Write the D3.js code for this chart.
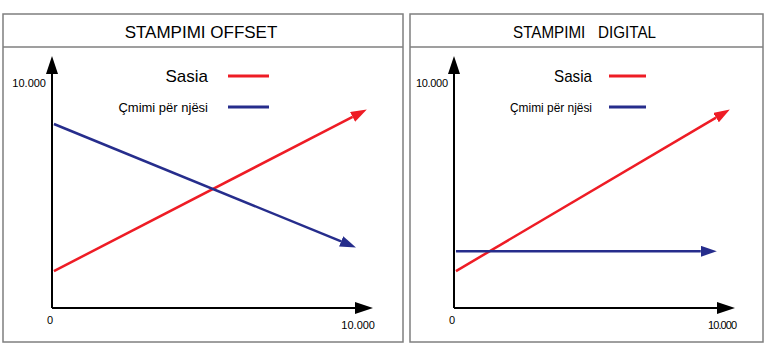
<!DOCTYPE html>
<html>
<head>
<meta charset="utf-8">
<script src="https://cdn.jsdelivr.net/npm/d3@7"></script>
<style>
  body { margin: 0; background: #fff; }
  text { font-family: "Liberation Sans", Arial, sans-serif; }
</style>
</head>
<body>
<div id="chart"></div>
<script>
// chart values
const titles = ["STAMPIMI OFFSET", "STAMPIMI   DIGITAL"];
const legendLabels = ["Sasia", "Çmimi për njësi"];
const tickLabels = ["0", "10.000"];
// [x, y] pairs, start and arrow tip
const offsetSasia = [[60, 1470], [9810, 7890]];
const offsetCmimi = [[60, 7330], [9470, 2430]];
const digitalSasia = [[70, 1470], [9820, 7890]];
const digitalCmimi = [[70, 2260], [9350, 2260]];

const seriesColors = ["#ee1c25", "#262d8c"];

const panels = [
    { title: titles[0], series: [offsetSasia, offsetCmimi], left: 3, right: 403, condensed: false },
    { title: titles[1], series: [digitalSasia, digitalCmimi], left: 410, right: 763, condensed: true }
];

const svg = d3.select("#chart").append("svg")
    .attr("width", 770)
    .attr("height", 354);

// arrowheads
let defs = svg.append("defs");
defs.append("marker")
    .attr("id", "axisArrow")
    .attr("markerUnits", "userSpaceOnUse")
    .attr("markerWidth", 18).attr("markerHeight", 12)
    .attr("refX", 0).attr("refY", 6)
    .attr("orient", "auto")
    .append("path")
    .attr("d", "M0,0 L18,6 L0,12 Z")
    .attr("fill", "#000");

seriesColors.forEach((c, i) => {
    defs.append("marker")
        .attr("id", "lineArrow" + i)
        .attr("markerUnits", "userSpaceOnUse")
        .attr("markerWidth", 16).attr("markerHeight", 11)
        .attr("refX", 0).attr("refY", 5.5)
        .attr("orient", "auto")
        .append("path")
        .attr("d", "M0,0 L16,5.5 L0,11 Z")
        .attr("fill", c);
});

// pull the end of a segment back so the arrowhead base sits there
function shorten(p0, p1, len) {
    let dx = p1[0] - p0[0], dy = p1[1] - p0[1];
    let d = Math.sqrt(dx * dx + dy * dy);
    return [p1[0] - dx / d * len, p1[1] - dy / d * len];
}

panels.forEach(p => {
    let g = svg.append("g");
    let top = 14, bottom = 342, header = 47;

    // frame
    g.append("rect")
        .attr("x", p.left).attr("y", top)
        .attr("width", p.right - p.left).attr("height", bottom - top)
        .attr("fill", "none").attr("stroke", "#7f7f7f").attr("stroke-width", 1.5);
    g.append("line")
        .attr("x1", p.left).attr("x2", p.right)
        .attr("y1", header).attr("y2", header)
        .attr("stroke", "#7f7f7f").attr("stroke-width", 1.5);

    let title = g.append("text")
        .attr("x", (p.left + p.right) / 2 - 2)
        .attr("y", 38)
        .attr("text-anchor", "middle")
        .attr("font-size", 17)
        .style("white-space", "pre")
        .text(p.title);
    if (p.condensed) {
        title.attr("textLength", 143).attr("lengthAdjust", "spacingAndGlyphs");
    }

    // scales
    let x0 = p.left + (p.condensed ? 44 : 49);
    let x1 = p.condensed ? 734 : 372;
    let x = d3.scaleLinear().domain([0, 10000]).range([x0, x1]);
    let y = d3.scaleLinear().domain([0, 10000]).range([308, 57]);

    // axes with arrows
    g.append("line")
        .attr("x1", x(0)).attr("y1", y(0))
        .attr("x2", x(10000) - 17).attr("y2", y(0))
        .attr("stroke", "#000").attr("stroke-width", 2)
        .attr("marker-end", "url(#axisArrow)");
    g.append("line")
        .attr("x1", x(0)).attr("y1", y(0))
        .attr("x2", x(0)).attr("y2", y(10000) + 17)
        .attr("stroke", "#000").attr("stroke-width", 2)
        .attr("marker-end", "url(#axisArrow)");

    let fs = 11;
    g.append("text")
        .attr("x", x(0) - 6).attr("y", 87)
        .attr("text-anchor", "end").attr("font-size", fs)
        .attr("textLength", p.condensed ? 32 : null)
        .text(tickLabels[1]);
    g.append("text")
        .attr("x", x(0) - 2).attr("y", 324)
        .attr("text-anchor", "middle").attr("font-size", fs)
        .text(tickLabels[0]);
    g.append("text")
        .attr("x", x(10000) + 3).attr("y", 329)
        .attr("text-anchor", "end").attr("font-size", fs)
        .attr("textLength", p.condensed ? 29 : null)
        .text(tickLabels[1]);

    // series lines
    p.series.forEach((s, i) => {
        let a = [x(s[0][0]), y(s[0][1])];
        let b = [x(s[1][0]), y(s[1][1])];
        let e = shorten(a, b, 15);
        g.append("line")
            .attr("x1", a[0]).attr("y1", a[1])
            .attr("x2", e[0]).attr("y2", e[1])
            .attr("stroke", seriesColors[i]).attr("stroke-width", 2.5)
            .attr("marker-end", "url(#lineArrow" + i + ")");
    });

    // legend
    let lx = p.condensed ? 609 : 228;
    let lw = p.condensed ? 37 : 41;
    let labelRight = p.condensed ? 592 : 208;
    let leg = [
        { y: 76, base: 82, size: 17, w: 38 },
        { y: 107, base: 112, size: 13, w: 82 }
    ];
    leg.forEach((l, i) => {
        let t = g.append("text")
            .attr("x", labelRight).attr("y", l.base)
            .attr("text-anchor", "end").attr("font-size", l.size)
            .text(legendLabels[i]);
        if (p.condensed) t.attr("textLength", l.w).attr("lengthAdjust", "spacingAndGlyphs");
        g.append("line")
            .attr("x1", lx).attr("x2", lx + lw)
            .attr("y1", l.y).attr("y2", l.y)
            .attr("stroke", seriesColors[i]).attr("stroke-width", 3);
    });
});
</script>
</body>
</html>
